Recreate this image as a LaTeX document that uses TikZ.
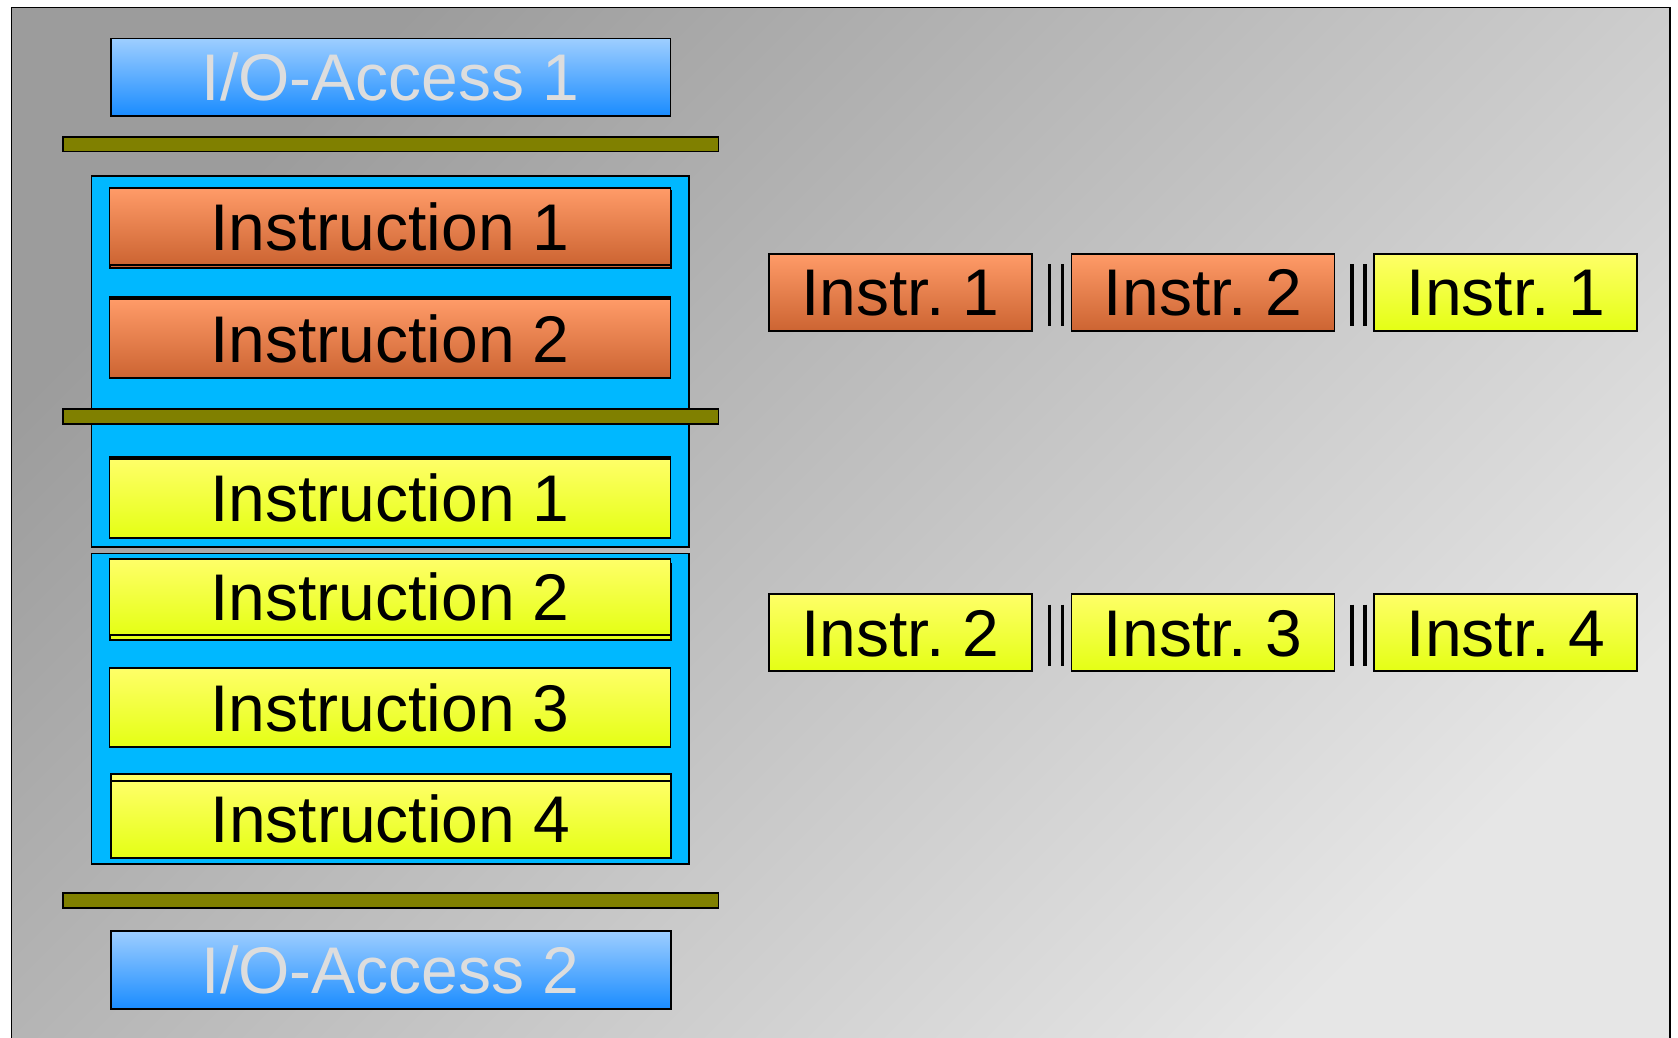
\documentclass[tikz,border=0pt]{standalone}
\usepackage{fontspec}
\newfontfamily\arialf{Liberation Sans}
\usetikzlibrary{calc}
\frenchspacing
\definecolor{bgA}{RGB}{156,156,156}
\definecolor{bgB}{RGB}{230,230,230}
\definecolor{ioA}{RGB}{158,206,255}
\definecolor{ioB}{RGB}{26,140,255}
\definecolor{iotext}{RGB}{221,221,221}
\definecolor{orA}{RGB}{255,155,104}
\definecolor{orB}{RGB}{204,100,50}
\definecolor{yeA}{RGB}{255,255,104}
\definecolor{yeB}{RGB}{228,255,20}
\definecolor{contblue}{RGB}{0,184,255}
\definecolor{olivebar}{RGB}{128,128,0}
\begin{document}
\begin{tikzpicture}[x=1pt,y=-1pt,
  box/.style={draw=black, line width=1.8pt, rectangle, inner sep=0pt,
    font=\arialf\fontsize{66}{70}\selectfont\frenchspacing, text height=47.2pt, text depth=0pt},
  iobox/.style={box, top color=ioA, bottom color=ioB, text=iotext},
  orbox/.style={box, top color=orA, bottom color=orB},
  yebox/.style={box, top color=yeA, bottom color=yeB},
  bigbox/.style={minimum width=561pt},
  smallbox/.style={minimum width=263pt, minimum height=77.3pt},
  barbox/.style={draw=black, line width=1.8pt, fill=olivebar, rectangle, inner sep=0pt, minimum width=655.5pt},
  container/.style={draw=black, line width=1.8pt, fill=contblue, rectangle, inner sep=0pt, minimum width=597.5pt},
  sepline/.style={line width=3.3pt, black}
]
\useasboundingbox (0,0) rectangle (1678,1037);
\path[draw=black, line width=1.8pt, top color=bgA, bottom color=bgB, shading angle=45]
  (11.5,7.5) rectangle (1670,1050);

% containers
\node[container, minimum height=371pt] (c1) at (390.25,361.5) {};
\node[container, minimum height=310.5pt] (c2) at (390.25,708.75) {};

% bars
\node[barbox, minimum height=14.5pt] (bar1) at (390.75,144.25) {};
\node[barbox, minimum height=14.7pt] (bar2) at (390.75,416.65) {};
\node[barbox, minimum height=15pt] (bar3) at (390.75,900.2) {};

% I/O boxes
\node[iobox, minimum width=559.5pt, minimum height=77.2pt] (io1) at (390.75,77.1) {I/O-Access 1};
\node[iobox, minimum width=560.4pt, minimum height=78.3pt] (io2) at (390.8,969.85) {I/O-Access 2};

% left instruction boxes (back layers first)
\node[orbox, bigbox, minimum height=76.7pt] (or1b) at (390.5,229.3) {};
\node[orbox, bigbox, minimum height=76.7pt] (or1) at (390,226.65) {Instruction 1};
\node[orbox, bigbox, minimum height=78.4pt] (or2b) at (390,335.9) {};
\node[orbox, bigbox, minimum height=78.4pt] (or2) at (390,338.5) {Instruction 2};
\node[yebox, bigbox, minimum height=78.7pt] (ye1b) at (390,496) {};
\node[yebox, bigbox, minimum height=78.7pt] (ye1) at (390,498.35) {Instruction 1};
\node[yebox, bigbox, minimum height=75.7pt] (ye2b) at (390.5,602) {};
\node[yebox, bigbox, minimum height=75.7pt] (ye2) at (390,597.15) {Instruction 2};
\node[yebox, bigbox, minimum height=78.4pt] (ye3) at (390,707.5) {Instruction 3};
\node[yebox, minimum width=560pt, minimum height=77pt] (ye4b) at (390.6,812.8) {};
\node[yebox, minimum width=560pt, minimum height=77pt] (ye4) at (390.6,819.2) {Instruction 4};

% right side
\node[orbox, smallbox] (r1a) at (900.5,292.35) {Instr.\ 1};
\node[orbox, smallbox] (r1b) at (1203,292.35) {Instr.\ 2};
\node[yebox, smallbox] (r1c) at (1505.75,292.35) {Instr.\ 1};
\node[yebox, smallbox] (r2a) at (900.5,632.5) {Instr.\ 2};
\node[yebox, smallbox] (r2b) at (1203,632.5) {Instr.\ 3};
\node[yebox, smallbox] (r2c) at (1505.75,632.5) {Instr.\ 4};

% parallel separators
\foreach \n in {r1a,r1b,r2a,r2b}{
  \draw[sepline] ($(\n.east)+(16.5,-28)$) -- ($(\n.east)+(16.5,33.4)$);
  \draw[sepline] ($(\n.east)+(29.7,-28)$) -- ($(\n.east)+(29.7,33.4)$);
}
\end{tikzpicture}
\end{document}
